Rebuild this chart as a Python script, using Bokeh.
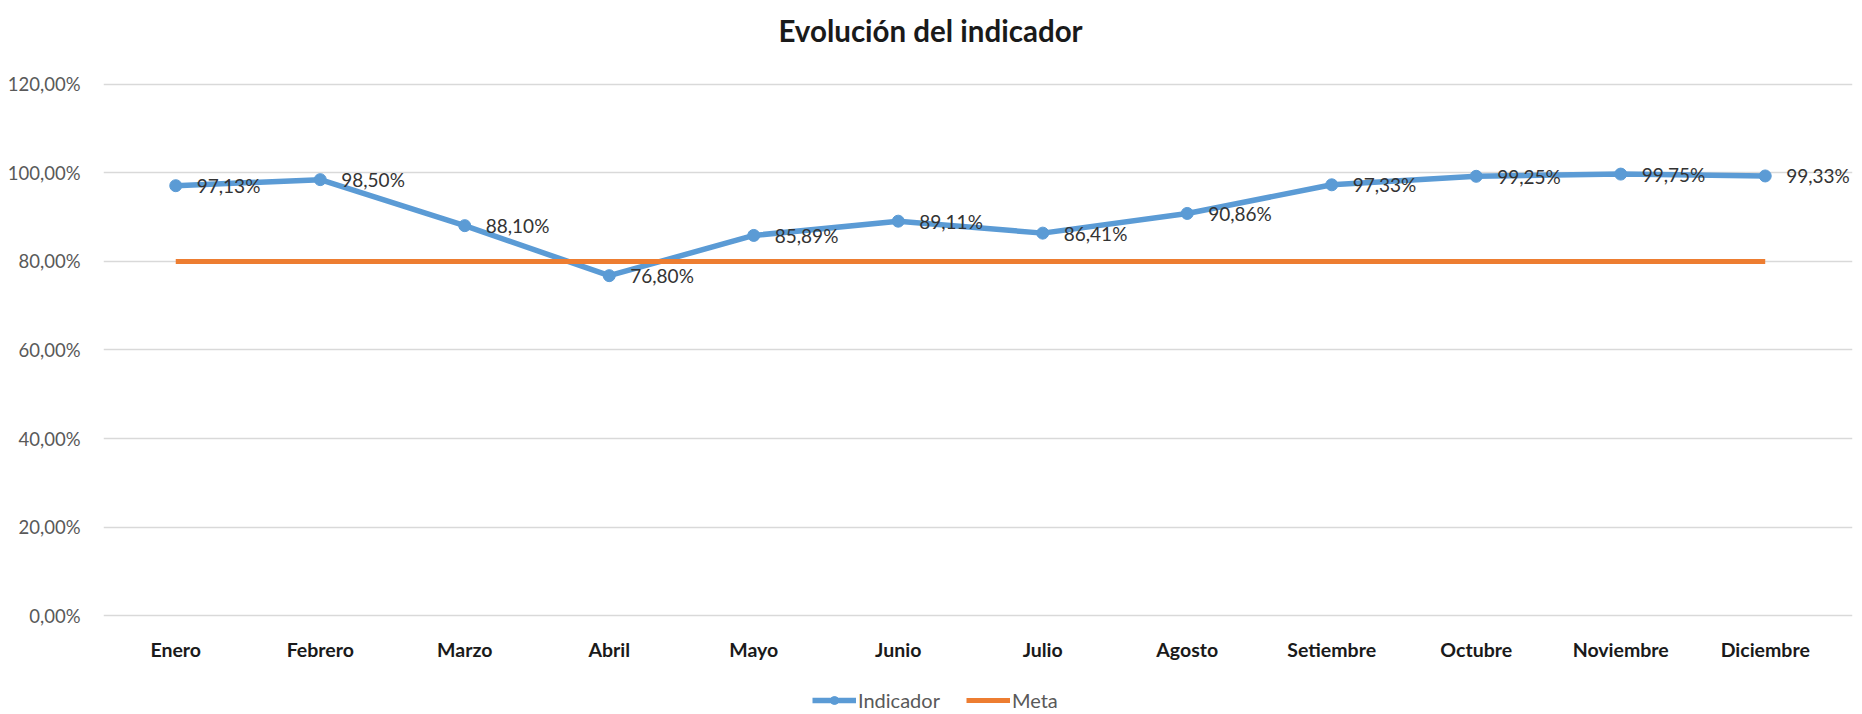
from bokeh.plotting import figure
from bokeh.models import (Range1d, FixedTicker, Legend, LegendItem, Label,
                          LabelSet, ColumnDataSource)
from bokeh.core.properties import value
from bokeh.embed import file_html
from bokeh.resources import INLINE

months = ["Enero", "Febrero", "Marzo", "Abril", "Mayo", "Junio", "Julio",
          "Agosto", "Setiembre", "Octubre", "Noviembre", "Diciembre"]
indicador = [97.13, 98.50, 88.10, 76.80, 85.89, 89.11, 86.41, 90.86, 97.33, 99.25, 99.75, 99.33]
meta = [80, 80, 80, 80, 80, 80, 80, 80, 80, 80, 80, 80]
y_ticks = [0, 20, 40, 60, 80, 100, 120]
y_tick_labels = ["0,00%", "20,00%", "40,00%", "60,00%", "80,00%", "100,00%", "120,00%"]
title_text = "Evolución del indicador"

FONT = "Lato"
BLUE = "#5B9BD5"
ORANGE = "#ED7D31"

xpos = list(range(len(months)))
labels_txt = [("%.2f%%" % v).replace(".", ",") for v in indicador]
src = ColumnDataSource(data=dict(x=xpos, ind=indicador, meta=meta, lbl=labels_txt))

# frame spans the whole canvas height; 0 % sits at 615 px, 120 % at 84 px from the top
p = figure(x_range=Range1d(-0.5, 11.604), y_range=Range1d(-22.37, 138.98),
           width=1862, height=714, output_backend="svg", toolbar_location=None,
           min_border_left=103, min_border_right=10, min_border_top=0, min_border_bottom=0)
p.outline_line_color = None
p.background_fill_color = "white"
p.border_fill_color = "white"

p.add_layout(Label(x=827, y=684, x_units="screen", y_units="screen", text=title_text,
                   text_align="center", text_baseline="middle", text_font=FONT,
                   text_font_size="29.5px", text_font_style="bold", text_color="#1a1a1a"))

p.xgrid.grid_line_color = None
p.ygrid.grid_line_color = "#d9d9d9"
p.ygrid.grid_line_width = 1.5

p.yaxis.ticker = FixedTicker(ticks=y_ticks)
p.yaxis.major_label_overrides = {t: l for t, l in zip(y_ticks, y_tick_labels)}
p.yaxis.axis_line_color = None
p.yaxis.major_tick_line_color = None
p.yaxis.minor_tick_line_color = None
p.yaxis.major_label_standoff = 17
p.yaxis.major_label_text_font = FONT
p.yaxis.major_label_text_font_size = "18.5px"
p.yaxis.major_label_text_color = "#595959"

p.xaxis.ticker = FixedTicker(ticks=xpos)
p.xaxis.major_label_overrides = {i: m for i, m in zip(xpos, months)}
p.xaxis.fixed_location = 0
p.xaxis.axis_line_color = None
p.xaxis.major_tick_line_color = None
p.xaxis.minor_tick_line_color = None
p.xaxis.major_label_standoff = 16
p.xaxis.major_label_text_font = FONT
p.xaxis.major_label_text_font_size = "19.5px"
p.xaxis.major_label_text_font_style = "bold"
p.xaxis.major_label_text_color = "#1a1a1a"

r_line = p.line("x", "ind", source=src, line_color=BLUE, line_width=5.5)
r_pts = p.scatter("x", "ind", source=src, marker="circle", size=12,
                  fill_color=BLUE, line_color=BLUE)
r_meta = p.line("x", "meta", source=src, line_color=ORANGE, line_width=5)

lbls = LabelSet(x="x", y="ind", text="lbl", source=src, x_offset=21, y_offset=0,
                text_baseline="middle", text_align="left", text_font=value(FONT),
                text_font_size="19px", text_color="#333333")
p.add_layout(lbls)

legend = Legend(items=[LegendItem(label="Indicador", renderers=[r_line, r_pts]),
                       LegendItem(label="Meta", renderers=[r_meta])],
                orientation="horizontal", location=(709, 2),
                glyph_width=44, glyph_height=20, label_standoff=2, spacing=26,
                padding=0, margin=0, border_line_color=None,
                background_fill_alpha=0, label_text_font=FONT,
                label_text_font_size="20px", label_text_color="#595959")
p.add_layout(legend, "center")

open("out.html", "w").write(file_html(p, INLINE))
